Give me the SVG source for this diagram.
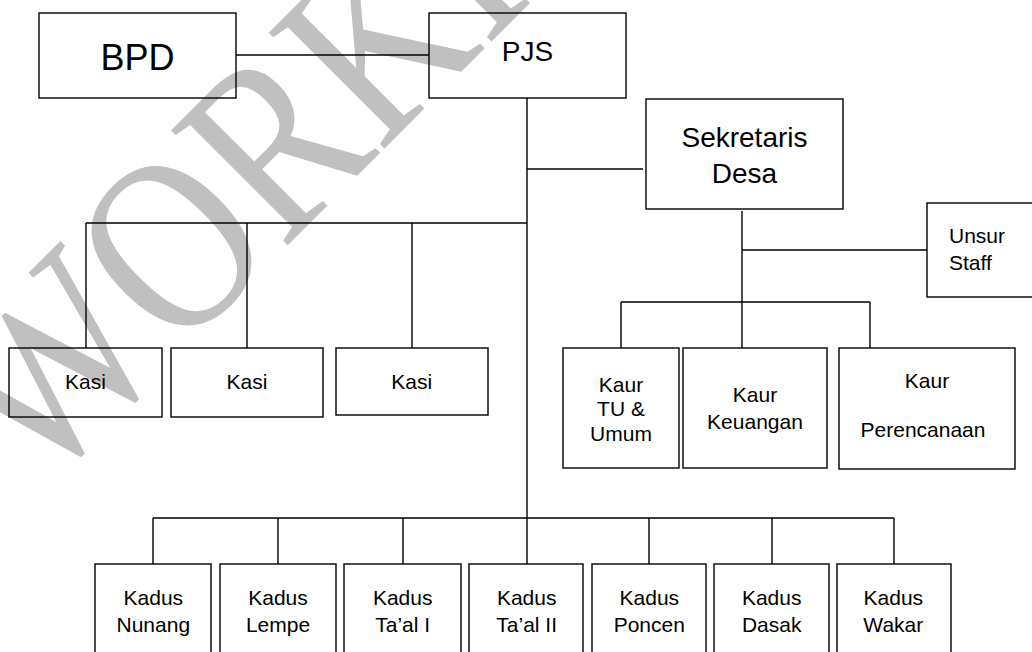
<svg xmlns="http://www.w3.org/2000/svg" width="1032" height="652" viewBox="0 0 1032 652">
<style>
.box{fill:none;stroke:#000;stroke-width:1.4}
.ln{fill:none;stroke:#000;stroke-width:1.4}
text{font-family:"Liberation Sans",Arial,sans-serif;fill:#000}
.s{font-size:21px;text-anchor:middle}
.m{font-size:28px;text-anchor:middle}
.wm{font-family:"Liberation Serif","Times New Roman",serif;font-size:250px;fill:#c0c0c0}
</style>
<rect x="0" y="0" width="1032" height="652" fill="#fff"/>
<g id="watermark">
<text class="wm" transform="translate(38,495) rotate(-45) scale(0.83,1)">WORKING</text>
</g>
<g id="connectors">
<path class="ln" d="M236 55H429"/>
<path class="ln" d="M527 98V564"/>
<path class="ln" d="M527 169H643"/>
<path class="ln" d="M86 223H527M86 223V348M247 223V348M412 223V348"/>
<path class="ln" d="M742 211V348"/>
<path class="ln" d="M742 250H927"/>
<path class="ln" d="M621 302H870M621 302V348M870 302V348"/>
<path class="ln" d="M153 518H894M153 518V564M278 518V564M403 518V564M649 518V564M772 518V564M894 518V564"/>
</g>
<g id="bpd"><rect class="box" x="39" y="13" width="197" height="85"/><text x="137.5" y="70" style="font-size:36px;text-anchor:middle">BPD</text></g>
<g id="pjs"><rect class="box" x="429" y="13" width="197" height="85"/><text class="m" x="527.5" y="61">PJS</text></g>
<g id="sekretaris"><rect class="box" x="646" y="99" width="197" height="110"/><text class="m" x="744.5" y="147">Sekretaris</text><text class="m" x="744.5" y="183">Desa</text></g>
<g id="unsur"><rect class="box" x="927" y="203" width="120" height="94"/><text x="949" y="243" style="font-size:21px">Unsur</text><text x="949" y="270" style="font-size:21px">Staff</text></g>
<g id="kasi1"><rect class="box" x="9" y="348" width="153" height="69"/><text class="s" x="85.5" y="389">Kasi</text></g>
<g id="kasi2"><rect class="box" x="171" y="348" width="152" height="69"/><text class="s" x="247" y="389">Kasi</text></g>
<g id="kasi3"><rect class="box" x="336" y="348" width="152" height="67"/><text class="s" x="411.7" y="389">Kasi</text></g>
<g id="kaur-tu"><rect class="box" x="563" y="348" width="116" height="120"/><text class="s" x="621" y="391.5">Kaur</text><text class="s" x="621" y="416">TU &amp;</text><text class="s" x="621" y="440.5">Umum</text></g>
<g id="kaur-keuangan"><rect class="box" x="683" y="348" width="144" height="120"/><text class="s" x="755" y="401.7">Kaur</text><text class="s" x="755" y="429">Keuangan</text></g>
<g id="kaur-perencanaan"><rect class="box" x="839" y="348" width="176" height="121"/><text class="s" x="927" y="388.3">Kaur</text><text class="s" x="923" y="436.7">Perencanaan</text></g>
<g id="kadus-nunang"><rect class="box" x="95" y="564" width="116" height="100"/><text class="s" x="153.3" y="605">Kadus</text><text class="s" x="153.3" y="631.7">Nunang</text></g>
<g id="kadus-lempe"><rect class="box" x="220" y="564" width="116" height="100"/><text class="s" x="278" y="605">Kadus</text><text class="s" x="278" y="631.7">Lempe</text></g>
<g id="kadus-taal1"><rect class="box" x="344" y="564" width="117" height="100"/><text class="s" x="402.7" y="605">Kadus</text><text class="s" x="402.7" y="631.7">Ta’al I</text></g>
<g id="kadus-taal2"><rect class="box" x="469" y="564" width="114" height="100"/><text class="s" x="526.7" y="605">Kadus</text><text class="s" x="526.7" y="631.7">Ta’al II</text></g>
<g id="kadus-poncen"><rect class="box" x="592" y="564" width="114" height="100"/><text class="s" x="649.3" y="605">Kadus</text><text class="s" x="649.3" y="631.7">Poncen</text></g>
<g id="kadus-dasak"><rect class="box" x="714" y="564" width="115" height="100"/><text class="s" x="771.7" y="605">Kadus</text><text class="s" x="771.7" y="631.7">Dasak</text></g>
<g id="kadus-wakar"><rect class="box" x="837" y="564" width="114" height="100"/><text class="s" x="893.3" y="605">Kadus</text><text class="s" x="893.3" y="631.7">Wakar</text></g>
</svg>
